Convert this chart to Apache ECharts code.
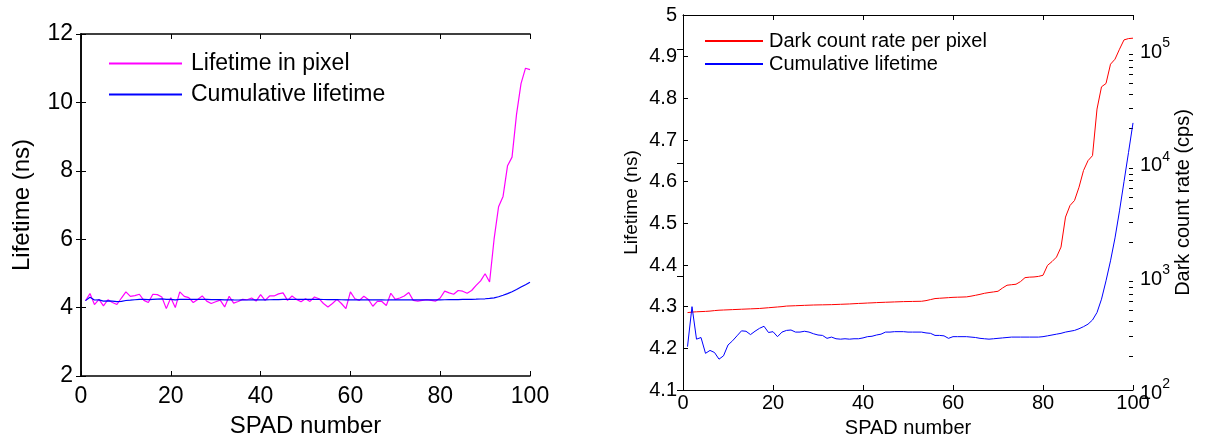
<!DOCTYPE html>
<html>
<head>
<meta charset="utf-8">
<script src="https://cdn.jsdelivr.net/npm/echarts@6/dist/echarts.min.js"></script>
<style>
  html, body { margin: 0; padding: 0; background: #fff; }
  #chart { width: 1212px; height: 443px; }
</style>
</head>
<body>
<div id="chart"></div>
<script>
// Left panel: lifetime measured in each pixel (ns), SPAD 1..100
const lifetimeInPixel = [
  4.20, 4.41, 4.09, 4.24, 4.05, 4.23, 4.15, 4.09, 4.28, 4.46,
  4.33, 4.35, 4.39, 4.21, 4.15, 4.39, 4.38, 4.31, 3.97, 4.29,
  4.00, 4.46, 4.33, 4.29, 4.15, 4.24, 4.34, 4.19, 4.12, 4.17,
  4.22, 4.02, 4.33, 4.13, 4.18, 4.24, 4.23, 4.28, 4.19, 4.38,
  4.21, 4.34, 4.34, 4.40, 4.43, 4.21, 4.34, 4.24, 4.17, 4.26,
  4.18, 4.31, 4.26, 4.12, 4.02, 4.12, 4.24, 4.12, 3.97, 4.46,
  4.26, 4.21, 4.33, 4.24, 4.04, 4.18, 4.18, 4.06, 4.42, 4.24,
  4.28, 4.34, 4.44, 4.21, 4.19, 4.21, 4.23, 4.21, 4.19, 4.28,
  4.48, 4.43, 4.39, 4.50, 4.48, 4.42, 4.50, 4.65, 4.78, 4.99,
  4.75, 6.00, 6.95, 7.25, 8.15, 8.40, 9.65, 10.55, 11.00, 10.96
];

// Cumulative lifetime over the first N SPADs (ns)
const cumulativeLifetime = [
  4.204, 4.300, 4.222, 4.226, 4.188, 4.195, 4.190, 4.174, 4.182, 4.208,
  4.218, 4.230, 4.242, 4.241, 4.233, 4.241, 4.248, 4.253, 4.238, 4.240,
  4.228, 4.239, 4.243, 4.244, 4.239, 4.239, 4.241, 4.239, 4.235, 4.232,
  4.231, 4.224, 4.227, 4.223, 4.222, 4.223, 4.222, 4.223, 4.223, 4.225,
  4.228, 4.229, 4.232, 4.234, 4.239, 4.239, 4.240, 4.240, 4.240, 4.239,
  4.239, 4.239, 4.239, 4.237, 4.236, 4.231, 4.231, 4.230, 4.224, 4.228,
  4.228, 4.228, 4.228, 4.227, 4.226, 4.224, 4.223, 4.222, 4.223, 4.224,
  4.225, 4.226, 4.227, 4.227, 4.227, 4.227, 4.227, 4.227, 4.227, 4.228,
  4.230, 4.232, 4.234, 4.236, 4.239, 4.241, 4.243, 4.247, 4.252, 4.258,
  4.268, 4.286, 4.318, 4.362, 4.410, 4.465, 4.530, 4.600, 4.670, 4.741
];

// Right panel: dark count rate per pixel (cps), sorted ascending
const darkCountRate = [
  480, 485, 488, 490, 492, 495, 500, 504, 506, 508,
  510, 512, 514, 516, 518, 520, 522, 526, 530, 534,
  538, 542, 548, 550, 552, 554, 556, 558, 560, 561,
  562, 563, 564, 566, 568, 570, 572, 575, 578, 580,
  583, 585, 588, 590, 592, 594, 596, 598, 600, 601,
  602, 603, 604, 612, 625, 638, 642, 646, 650, 654,
  656, 658, 660, 670, 682, 695, 710, 721, 730, 740,
  790, 836, 845, 853, 900, 975, 985, 989, 1000, 1023,
  1250, 1350, 1479, 1811, 3327, 4207, 4656, 6095, 8551, 10447,
  11561, 29717, 46666, 49888, 73790, 81658, 100000, 120781, 124000, 125026
];

// Axis ticks
const spadTicks = [0, 20, 40, 60, 80, 100];
const leftLifetimeRange = [2, 12, 2];
const rightLifetimeRange = [4.1, 5, 0.1];
const dcrDecades = [100, 1000, 10000, 100000];
const dcrMinor = [
  200, 300, 400, 500, 600, 700, 800, 900,
  2000, 3000, 4000, 5000, 6000, 7000, 8000, 9000,
  20000, 30000, 40000, 50000, 60000, 70000, 80000, 90000, 200000
];
const dcrRange = [100, 200000];

const FONT = "'Liberation Sans', Arial, Helvetica, sans-serif";
const pairs = arr => arr.map((v, i) => [i + 1, v]);

function spadAxis(gridIndex, position, showLabels, fontSize, lineWidth, extra) {
  return Object.assign({
    type: 'value', gridIndex, position,
    min: spadTicks[0], max: spadTicks[spadTicks.length - 1],
    interval: spadTicks[1] - spadTicks[0],
    axisLine: { show: true, onZero: false, lineStyle: { color: '#000', width: lineWidth } },
    axisTick: { show: true, inside: true, length: 5, lineStyle: { color: '#000', width: 1 } },
    axisLabel: { show: showLabels, color: '#000', fontSize, fontFamily: FONT, margin: 6 },
    splitLine: { show: false }
  }, extra || {});
}

const chart = echarts.init(document.getElementById('chart'), null, { renderer: 'canvas' });

chart.setOption({
  animation: false,
  backgroundColor: '#fff',
  textStyle: { fontFamily: FONT },
  grid: [
    { left: 81, top: 34, width: 449, height: 343 },
    { left: 683, top: 15, width: 450, height: 375 }
  ],
  legend: [
    {
      data: ['Lifetime in pixel', 'Cumulative lifetime'],
      orient: 'vertical', left: 108, top: 52, padding: 0,
      itemWidth: 73, itemHeight: 14, itemGap: 8, selectedMode: false,
      itemStyle: { opacity: 0 },
      textStyle: { fontSize: 23, color: '#000', fontFamily: FONT, padding: [0, 0, 0, 4] }
    },
    {
      data: ['Dark count rate per pixel', 'Cumulative lifetime'],
      orient: 'vertical', left: 704, top: 31, padding: 0,
      itemWidth: 58, itemHeight: 12, itemGap: 3, selectedMode: false,
      itemStyle: { opacity: 0 },
      textStyle: { fontSize: 20, color: '#000', fontFamily: FONT, padding: [0, 0, 0, 1] }
    }
  ],
  xAxis: [
    spadAxis(0, 'bottom', true, 23, 1.5, {
      name: 'SPAD number', nameLocation: 'middle', nameGap: 38,
      nameTextStyle: { fontSize: 24, color: '#000', fontFamily: FONT },
      axisLabel: { show: true, color: '#000', fontSize: 23, fontFamily: FONT, margin: 9 }
    }),
    spadAxis(0, 'top', false, 23, 1.5),
    spadAxis(1, 'bottom', true, 20, 1, {
      name: 'SPAD number', nameLocation: 'middle', nameGap: 28,
      nameTextStyle: { fontSize: 20, color: '#000', fontFamily: FONT },
      axisLabel: { show: true, color: '#000', fontSize: 20, fontFamily: FONT, margin: 3 }
    }),
    spadAxis(1, 'top', false, 20, 1)
  ],
  yAxis: [
    {
      type: 'value', gridIndex: 0, position: 'left',
      min: leftLifetimeRange[0], max: leftLifetimeRange[1], interval: leftLifetimeRange[2],
      name: 'Lifetime (ns)', nameLocation: 'middle', nameGap: 47,
      nameTextStyle: { fontSize: 24, color: '#000', fontFamily: FONT },
      axisLine: { show: true, lineStyle: { color: '#000', width: 1.5 } },
      axisTick: { show: true, inside: true, length: 5, lineStyle: { color: '#000' } },
      axisLabel: { color: '#000', fontSize: 23, fontFamily: FONT, margin: 8 },
      splitLine: { show: false }
    },
    {
      type: 'value', gridIndex: 0, position: 'right',
      min: leftLifetimeRange[0], max: leftLifetimeRange[1], interval: leftLifetimeRange[2],
      axisLine: { show: true, lineStyle: { color: '#000', width: 1.5 } },
      axisTick: { show: true, inside: true, length: 5, lineStyle: { color: '#000' } },
      axisLabel: { show: false },
      splitLine: { show: false }
    },
    {
      type: 'value', gridIndex: 1, position: 'left',
      min: rightLifetimeRange[0], max: rightLifetimeRange[1], interval: rightLifetimeRange[2],
      name: 'Lifetime (ns)', nameLocation: 'middle', nameGap: 42,
      nameTextStyle: { fontSize: 19, color: '#000', fontFamily: FONT },
      axisLine: { show: true, lineStyle: { color: '#000', width: 1 } },
      axisTick: { show: true, inside: true, length: 5, lineStyle: { color: '#000' } },
      axisLabel: { color: '#000', fontSize: 20, fontFamily: FONT, margin: 6 },
      splitLine: { show: false }
    },
    {
      type: 'log', logBase: 10, gridIndex: 1, position: 'right',
      min: dcrRange[0], max: dcrRange[1],
      name: 'Dark count rate (cps)', nameLocation: 'middle', nameGap: 40,
      nameTextStyle: { fontSize: 20, color: '#000', fontFamily: FONT },
      axisLine: { show: true, lineStyle: { color: '#000', width: 1 } },
      axisTick: { show: true, inside: true, length: 6, customValues: dcrDecades, lineStyle: { color: '#000' } },
      axisLabel: {
        customValues: dcrDecades, margin: 7,
        formatter: v => '{b|10}{s|' + Math.round(Math.log10(v)) + '}',
        rich: {
          b: { fontSize: 20, color: '#000', fontFamily: FONT, lineHeight: 26, verticalAlign: 'bottom' },
          s: { fontSize: 14, color: '#000', fontFamily: FONT, lineHeight: 14, verticalAlign: 'top' }
        }
      },
      splitLine: { show: false }
    },
    {
      type: 'log', logBase: 10, gridIndex: 1, position: 'right',
      min: dcrRange[0], max: dcrRange[1],
      axisLine: { show: false },
      axisTick: { show: true, inside: true, length: 4, customValues: dcrMinor, lineStyle: { color: '#000' } },
      axisLabel: { show: false },
      splitLine: { show: false }
    }
  ],
  series: [
    {
      name: 'Lifetime in pixel', type: 'line', xAxisIndex: 0, yAxisIndex: 0,
      data: pairs(lifetimeInPixel), symbol: 'none',
      itemStyle: { color: '#ff00ff' }, lineStyle: { color: '#ff00ff', width: 1.2 }
    },
    {
      name: 'Cumulative lifetime', type: 'line', xAxisIndex: 0, yAxisIndex: 0,
      data: pairs(cumulativeLifetime), symbol: 'none',
      itemStyle: { color: '#0000ff' }, lineStyle: { color: '#0000ff', width: 1.2 }
    },
    {
      name: 'Dark count rate per pixel', type: 'line', xAxisIndex: 2, yAxisIndex: 3,
      data: pairs(darkCountRate), symbol: 'none',
      itemStyle: { color: '#ff0000' }, lineStyle: { color: '#ff0000', width: 1 }
    },
    {
      name: 'Cumulative lifetime', type: 'line', xAxisIndex: 2, yAxisIndex: 2,
      data: pairs(cumulativeLifetime), symbol: 'none',
      itemStyle: { color: '#0000ff' }, lineStyle: { color: '#0000ff', width: 1 }
    }
  ]
});
</script>
</body>
</html>
